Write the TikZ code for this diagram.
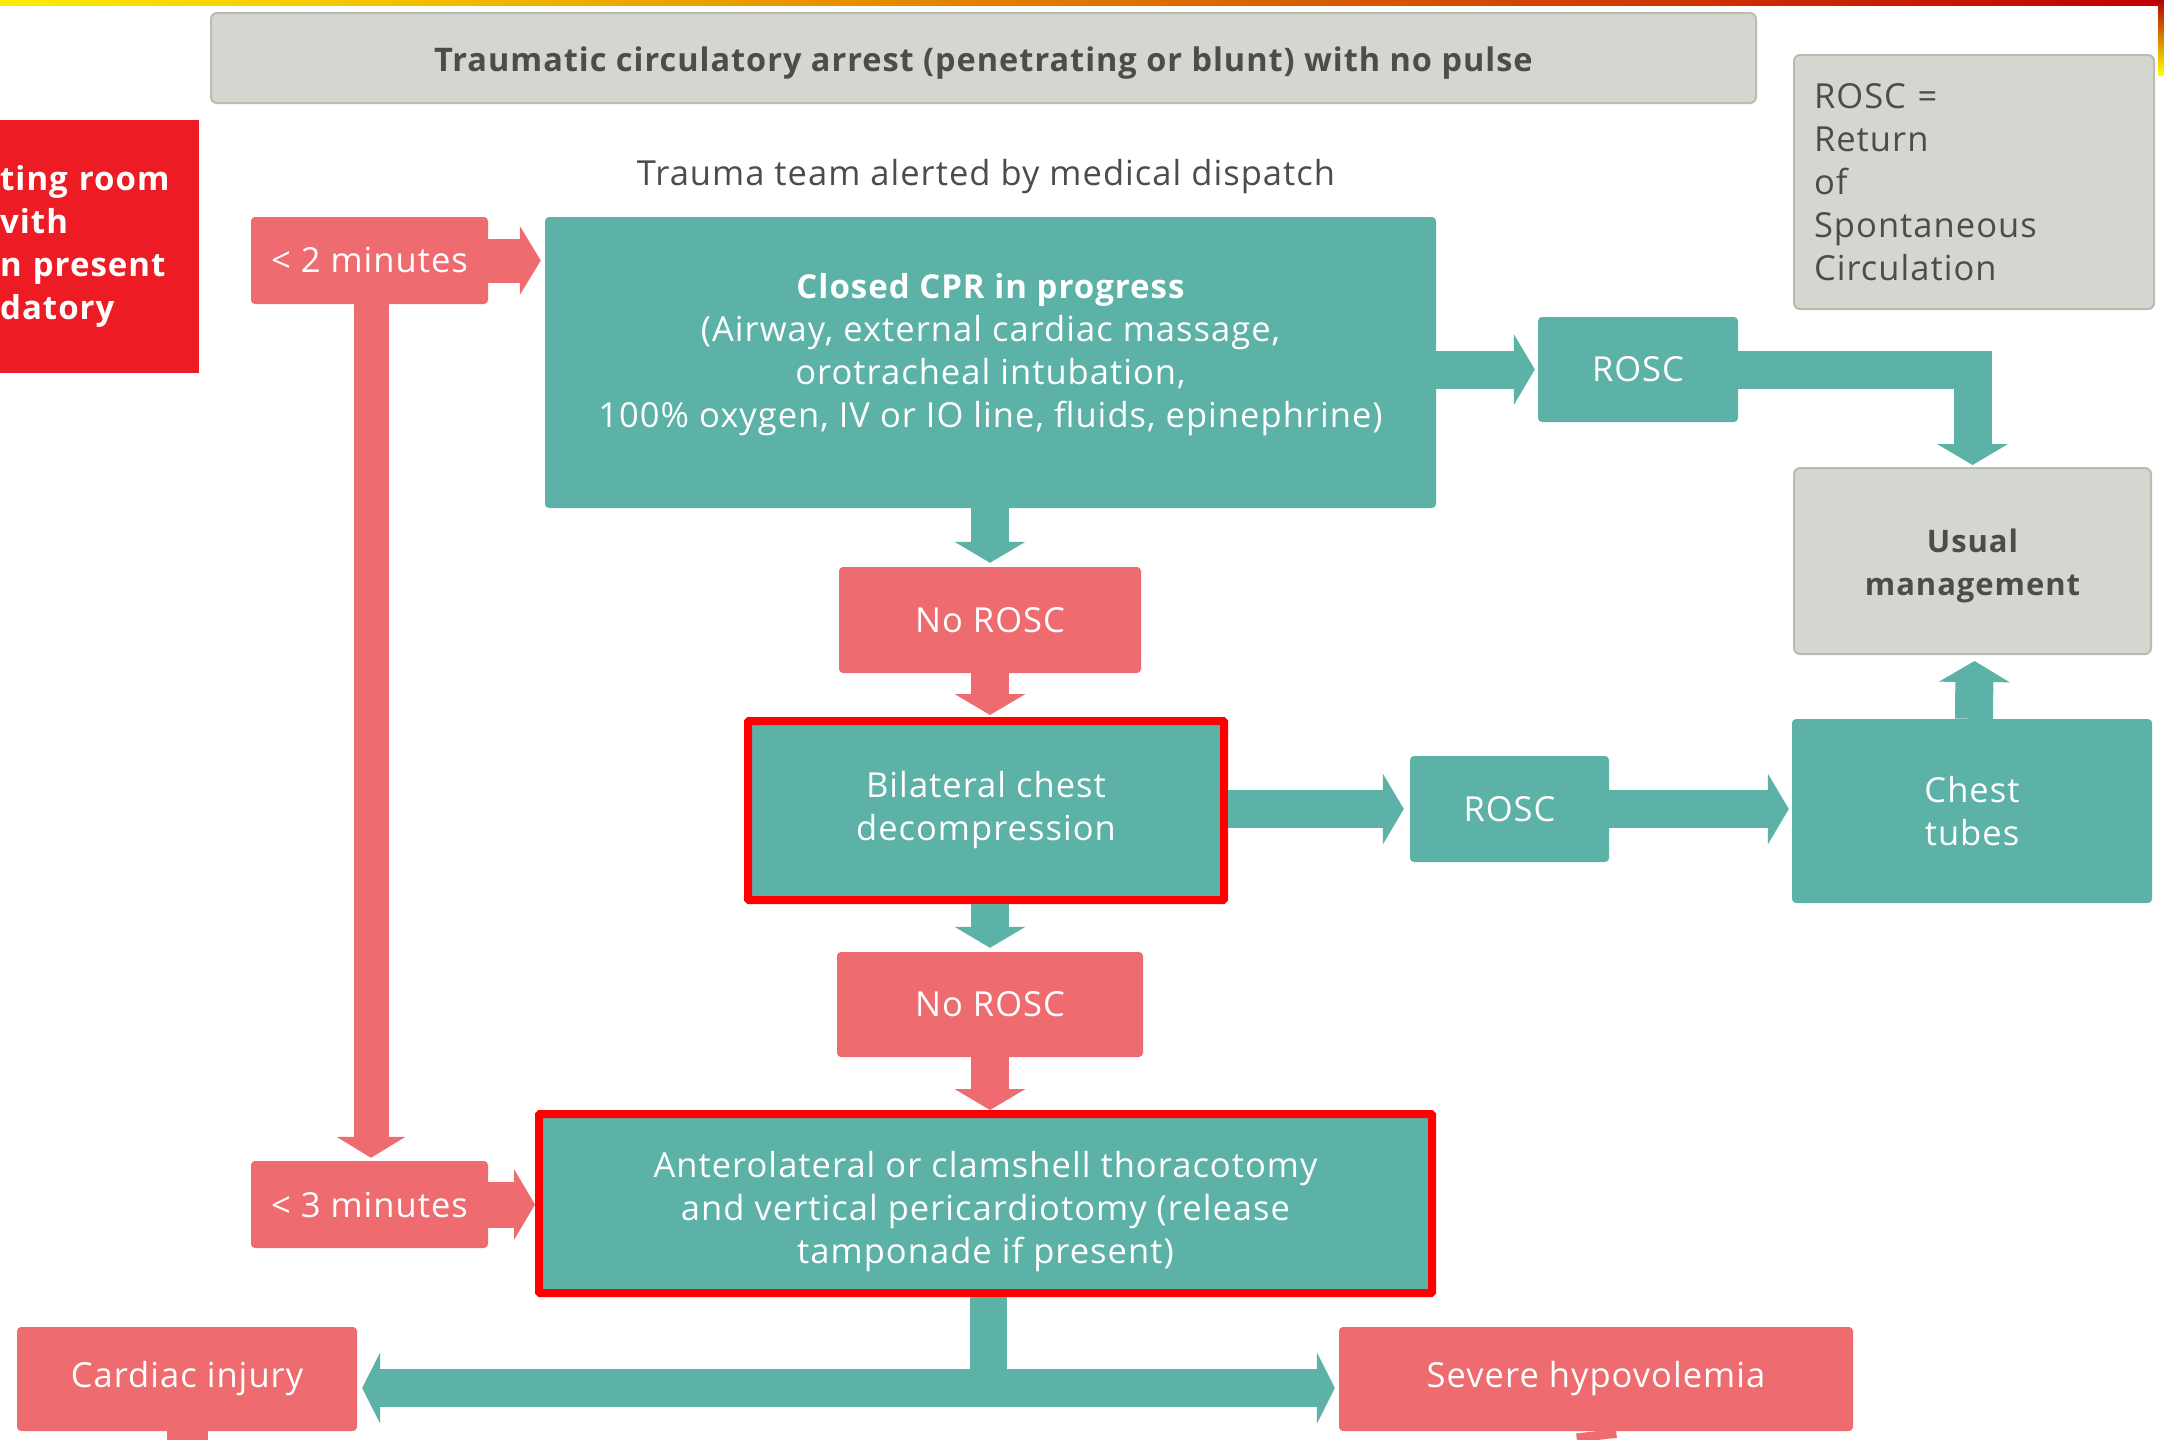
\documentclass[tikz,border=0pt]{standalone}
\usepackage{fontspec}
\setmainfont{Open Sans}[LetterSpace=3]
\usetikzlibrary{arrows.meta,calc}
\definecolor{tealc}{HTML}{5DB2A7}
\definecolor{salmon}{HTML}{EE6B6F}
\definecolor{grayf}{HTML}{D4D7D0}
\definecolor{grayd}{HTML}{B9BCB2}
\definecolor{txtgray}{HTML}{4A4D49}
\definecolor{brightred}{HTML}{ED1C24}
\definecolor{framered}{HTML}{FF0000}
\newcommand\myfs{\fontsize{34.5pt}{43pt}\selectfont}
\newcommand\myfsb{\fontsize{33pt}{43pt}\selectfont\bfseries}
\newcommand\usualfs{\fontsize{31pt}{43pt}\selectfont\bfseries}
\newcommand\titlefs{\fontsize{32.5pt}{38pt}\selectfont\bfseries}
\begin{document}
\begin{tikzpicture}[x=1pt,y=-1pt,
  base/.style={inner sep=0pt, align=center, font=\myfs},
  tealbox/.style={base, fill=tealc, rounded corners=4pt, text=white},
  redbox/.style={base, fill=salmon, rounded corners=4pt, text=white},
  graybox/.style={base, fill=grayf, draw=grayd, line width=2pt, rounded corners=6pt, text=txtgray},
  framed/.style={draw=framered, line width=8pt, rounded corners=1pt},
  tarrow/.style={draw=tealc, line width=38pt, -{Triangle[length=21pt,width=70pt]}},
  rarrow/.style={draw=salmon, line width=38pt, -{Triangle[length=21pt,width=70pt]}},
]
\useasboundingbox (0,0) rectangle (2164,1440);
\fill[white] (0,0) rectangle (2164,1440);
\shade[left color=yellow!85!orange, middle color=orange, right color=red!75!black] (0,0) rectangle (2164,5);
\shade[top color=red!70!black, bottom color=yellow] (2158,0) rectangle (2164,75);

% boxes
\node[graybox, minimum width=1545pt, minimum height=90pt] (title) at (983.5,58) {};
\node[base, font=\titlefs, text=txtgray] (titleT) at (983.5,63) {Traumatic circulatory arrest (penetrating or blunt) with no pulse};
\node[graybox, align=left, text width=320pt, inner xsep=20pt, minimum height=254pt] (legend) at (1974,182) {ROSC =\\Return\\of\\Spontaneous\\Circulation};
\node[base, text=txtgray] (alert) at (986,177) {Trauma team alerted by medical dispatch};
\node[base, fill=brightred, align=left, text width=199pt, minimum height=253pt, anchor=north west, text=white, font=\myfsb] (orbox) at (0,120) {ting room\\vith\\n present\\datory};
\node[redbox, minimum width=237pt, minimum height=87pt] (min2) at (369.5,260.5) {< 2 minutes};
\node[tealbox, minimum width=891pt, minimum height=291pt] (cpr) at (990.5,362.5) {};
\node[base, text=white] (cprT) at (990.5,355) {{\myfsb Closed CPR in progress}\\(Airway, external cardiac massage,\\orotracheal intubation,\\100\% oxygen, IV or IO line, fluids, epinephrine)};
\node[tealbox, minimum width=200pt, minimum height=105pt] (rosc1) at (1638,369.5) {ROSC};
\node[graybox, minimum width=357pt, minimum height=186pt] (usual) at (1972.5,561) {};
\node[base, font=\usualfs, text=txtgray] (usualT) at (1972.5,566) {Usual\\management};
\node[tealbox, minimum width=360pt, minimum height=184pt] (chest) at (1972,811) {Chest\\tubes};
\node[tealbox, minimum width=199pt, minimum height=106pt] (rosc2) at (1509.5,809) {ROSC};
\node[redbox, minimum width=302pt, minimum height=106pt] (noA) at (990,620) {No ROSC};
\node[tealbox, framed, minimum width=476pt, minimum height=179pt] (bil) at (986,810.5) {Bilateral chest\\decompression};
\node[redbox, minimum width=306pt, minimum height=105pt] (noB) at (990,1004.5) {No ROSC};
\node[tealbox, framed, minimum width=893pt, minimum height=179pt] (thor) at (985.5,1203.5) {};
\node[base, text=white] (thorT) at (985.5,1212) {Anterolateral or clamshell thoracotomy\\and vertical pericardiotomy (release\\tamponade if present)};
\node[redbox, minimum width=237pt, minimum height=87pt] (min3) at (369.5,1204.5) {< 3 minutes};
\node[redbox, minimum width=340pt, minimum height=104pt] (cardiac) at (187,1379) {Cardiac injury};
\node[redbox, minimum width=514pt, minimum height=104pt] (severe) at (1596,1379) {Severe hypovolemia};

% connectors
\draw[rarrow, line width=44pt, -{Triangle[length=21pt,width=68pt]}] (min2.east) -- ($(cpr.west |- min2.east)+(-4,0)$);
\draw[rarrow, line width=35pt, -{Triangle[length=21pt,width=68pt]}] ($(min2.south)+(1.5,0)$) -- ($(min3.north)+(1.5,-3)$);
\draw[rarrow, line width=46pt] (min3.east) -- (thor.west |- min3.east);
\draw[tarrow] (cpr.east |- rosc1.west) -- ($(rosc1.west)+(-3,0)$);
\draw[tarrow] (rosc1.east) -| ($(usual.north)+(0,-2)$);
\draw[tarrow] (cpr.south -| noA.north) -- ($(noA.north)+(0,-4)$);
\draw[rarrow] (noA.south) -- ($(noA.south |- bil.north)+(0,-2)$);
\draw[tarrow] (bil.east |- rosc2.west) -- ($(rosc2.west)+(-6,0)$);
\draw[tarrow] (rosc2.east) -- ($(chest.west |- rosc2.east)+(-3,0)$);
\draw[tarrow] ($(chest.north)+(2,0)$) -- ($(usual.south)+(2,6)$);
\draw[tarrow] (bil.south -| noB.north) -- ($(noB.north)+(0,-4)$);
\draw[rarrow] (noB.south) -- (noB.south |- thor.north);
\coordinate (barL) at ($(cardiac.east)+(5,9)$);
\coordinate (barR) at ($(severe.west)+(-4,9)$);
\draw[draw=tealc, line width=37pt] ($(thor.south)+(3,0)$) -- ($(thor.south |- barL)+(3,0)$);
\draw[draw=tealc, line width=38pt, {Triangle[length=18pt,width=71pt]}-{Triangle[length=18pt,width=71pt]}] (barL) -- (barR);
\coordinate (stubL) at (187,1440);
\coordinate (stubR) at (1597,1440);
\draw[draw=salmon, line width=41pt] (cardiac.south) -- (stubL);
\draw[draw=salmon, line width=40pt] (severe.south) -- (stubR);
\end{tikzpicture}
\end{document}
